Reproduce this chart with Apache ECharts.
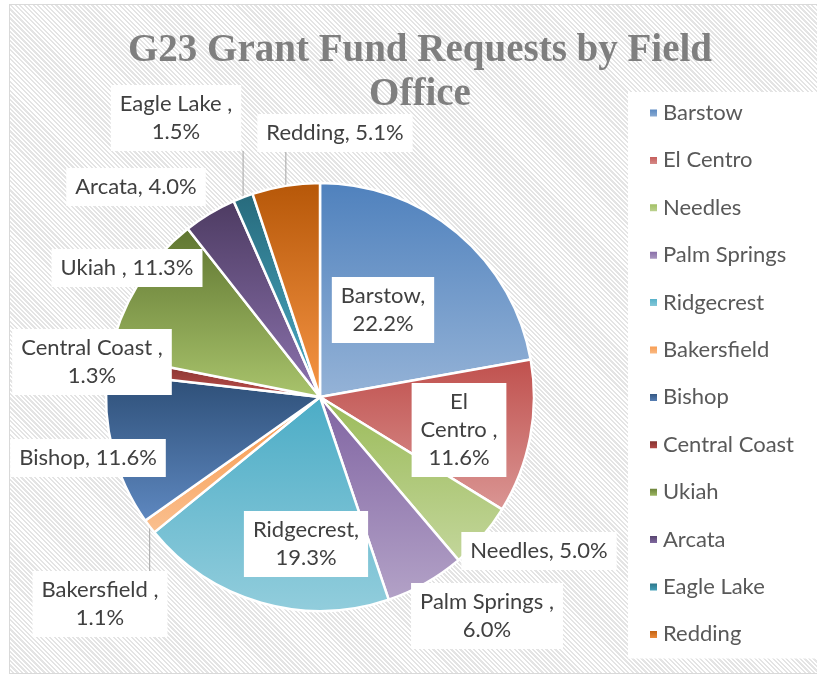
<!DOCTYPE html>
<html>
<head>
<meta charset="utf-8">
<script src="https://cdn.jsdelivr.net/npm/echarts@6/dist/echarts.min.js"></script>
<style>
  html, body { margin: 0; padding: 0; background: #fff; }
  #frame {
    position: absolute; left: 9px; top: 4px; width: 830px; height: 668px;
    border: 1.5px solid #d9d9d9;
    background: repeating-linear-gradient(45deg, #ffffff 0px, #ffffff 1.6px, #e4e4e4 1.6px, #e4e4e4 3.2px);
  }
  #chart { position: absolute; left: 0; top: 0; width: 817px; height: 675px; }
</style>
</head>
<body>
<div id="frame"></div>
<div id="chart"></div>
<script>
// 数据：各办公室申请占比（%）
const offices = ['Barstow', 'El Centro', 'Needles', 'Palm Springs', 'Ridgecrest', 'Bakersfield',
  'Bishop', 'Central Coast', 'Ukiah', 'Arcata', 'Eagle Lake', 'Redding'];
const shares = [22.2, 11.6, 5.0, 6.0, 19.3, 1.1, 11.6, 1.3, 11.3, 4.0, 1.5, 5.1];
// 标签文字模板（与原图换行方式一致）
const labelTemplates = ['Barstow,\n{p}', 'El\nCentro ,\n{p}', 'Needles, {p}', 'Palm Springs ,\n{p}',
  'Ridgecrest,\n{p}', 'Bakersfield ,\n{p}', 'Bishop, {p}', 'Central Coast ,\n{p}', 'Ukiah , {p}',
  'Arcata, {p}', 'Eagle Lake ,\n{p}', 'Redding, {p}'];

// 样式：渐变色（上深下浅）
const COLORS = [
  ['#4F81BD', '#95B3D7'], ['#C0504D', '#DA9694'], ['#9BBB59', '#C3D69B'], ['#8064A2', '#B3A2C7'],
  ['#4BACC6', '#92CDDC'], ['#F79646', '#FAC090'], ['#2C4D75', '#5E88C0'], ['#772C2A', '#C0504D'],
  ['#5F7530', '#A9C46C'], ['#4D3B62', '#8C73AE'], ['#276A7C', '#4BACC6'], ['#B65708', '#F79646']
];
// 标签中心位置（像素）
const LABEL_POS = [[383, 310], [459, 430], [539, 551], [487, 616], [306, 544], [100, 604],
  [88, 458], [92, 362], [127, 268], [136, 187], [176, 118], [335, 133]];
const WITH_LINE = ['Bakersfield', 'Eagle Lake', 'Redding'];

const FONT = 'Lato';

const seriesData = offices.map((name, i) => ({
  name,
  value: shares[i],
  itemStyle: {
    color: new echarts.graphic.LinearGradient(0, 0, 0, 1, [
      { offset: 0, color: COLORS[i][0] },
      { offset: 1, color: COLORS[i][1] }
    ])
  },
  labelLine: { show: WITH_LINE.includes(name) }
}));

const chart = echarts.init(document.getElementById('chart'));
chart.setOption({
  animation: false,
  backgroundColor: 'transparent',
  title: {
    text: 'G23 Grant Fund Requests by Field\nOffice',
    left: 415, top: 24, textAlign: 'center',
    textStyle: {
      fontFamily: 'Liberation Serif', fontWeight: 'bold', fontSize: 39,
      color: '#7f7f7f', lineHeight: 44
    }
  },
  legend: {
    orient: 'vertical',
    left: 628, top: 92,
    padding: [9, 60, 12, 20],
    backgroundColor: '#ffffff',
    itemWidth: 9, itemHeight: 9, itemGap: 23.4,
    icon: 'rect',
    textStyle: { fontFamily: FONT, fontSize: 22, color: '#595959', lineHeight: 24 },
    data: offices
  },
  series: [{
    type: 'pie',
    center: [320, 397],
    radius: 214,
    startAngle: 90,
    clockwise: true,
    avoidLabelOverlap: false,
    itemStyle: { borderColor: '#ffffff', borderWidth: 2.5 },
    label: {
      show: true,
      position: 'outside',
      fontFamily: FONT, fontSize: 22, color: '#404040', lineHeight: 28,
      backgroundColor: '#ffffff', padding: [5, 9],
      align: 'center',
      formatter: p => labelTemplates[p.dataIndex].replace('{p}', p.value.toFixed(1) + '%')
    },
    labelLine: { lineStyle: { color: '#a6a6a6', width: 1 }, length: 10, length2: 0 },
    labelLayout: params => {
      const [cx, cy] = LABEL_POS[params.dataIndex];
      const out = { x: cx, y: cy, align: 'center', verticalAlign: 'middle' };
      const pts = params.labelLinePoints;
      if (pts && WITH_LINE.includes(offices[params.dataIndex])) {
        const half = params.labelRect.height / 2;
        const sx = pts[0][0], sy = pts[0][1];
        const ey = sy > cy ? cy + half : cy - half;
        out.labelLinePoints = [[sx, sy], [sx, (sy + ey) / 2], [sx, ey]];
      }
      return out;
    },
    data: seriesData
  }]
});
</script>
</body>
</html>
